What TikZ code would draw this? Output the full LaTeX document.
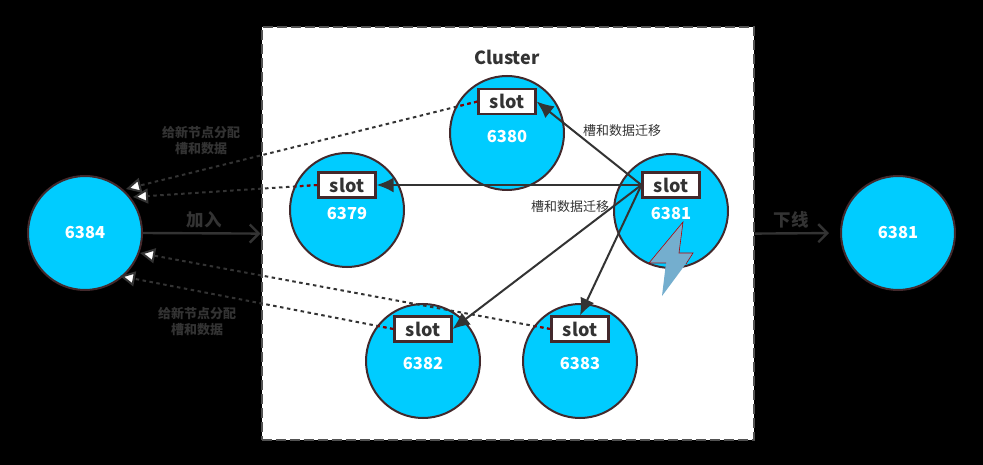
\documentclass[tikz,border=0pt]{standalone}
\usepackage{fontspec}
\setmainfont{Noto Sans CJK SC}
\usepackage{tikz}
\usetikzlibrary{arrows.meta}

\definecolor{linegray}{HTML}{333333}
\definecolor{ringdark}{HTML}{43292C}
\definecolor{nodeblue}{HTML}{00CCFF}
\definecolor{boltblue}{HTML}{74AECE}

\tikzset{
    redisnode/.style={circle, draw=ringdark, fill=nodeblue, line width=2pt, minimum size=114pt, inner sep=0pt},
    portnum/.style={text=white, font=\fontsize{16.5}{16.5}\selectfont\bfseries, inner sep=0pt},
    slotbox/.style={draw=ringdark, fill=white, line width=2.2pt, minimum width=57pt, minimum height=25pt, inner sep=0pt, text=linegray, font=\fontsize{18}{18}\selectfont\bfseries},
    migrate/.style={draw=linegray, line width=2pt, -{Latex[length=17pt, width=15pt]}},
    assign/.style={draw=linegray, line width=2pt, dash pattern=on 3.5pt off 3.5pt, -{Triangle[open, fill=white, length=15pt, width=15pt, line width=2pt]}},
    flowarrow/.style={draw=linegray, line width=2.4pt, -{Straight Barb[length=9pt, width=18pt]}},
    darknote/.style={text=linegray, align=center, inner sep=0pt},
}

\begin{document}
\begin{tikzpicture}[x=1pt, y=-1pt]
    \fill[black] (0, 0) rectangle (983, 465);
    \useasboundingbox (0, 0) rectangle (983, 465);

    \node (cluster) [draw=linegray!85, fill=white, line width=2.2pt, dash pattern=on 10pt off 4pt, minimum width=492pt, minimum height=413pt, inner sep=0pt, anchor=north west] at (260.5, 26) {};
    \node (clustertitle) [darknote, font=\fontsize{18}{18}\selectfont\bfseries] at (507, 57) {Cluster};

    \node (n6384) [redisnode] at (85, 233) {};
    \node (n6379) [redisnode] at (347, 210) {};
    \node (n6380) [redisnode] at (507, 133) {};
    \node (n6381) [redisnode] at (671, 211) {};
    \node (n6382) [redisnode] at (423, 361) {};
    \node (n6383) [redisnode] at (580, 361) {};
    \node (n6381off) [redisnode] at (898, 233) {};

    % lightning over the failing node
    \fill[boltblue] (683, 222) -- (679, 253) -- (693, 253) -- (682, 269) -- (662, 296) -- (666, 263) -- (649, 263) -- cycle;
    \draw[red!70!black, line width=0.6pt] (666, 263) -- (649, 263) -- (683, 222) -- (679, 253) -- (693, 253) -- (686, 264);

    \node (lab6384) [portnum] at (85, 233) {6384};
    \node (lab6379) [portnum] at (347, 214) {6379};
    \node (lab6380) [portnum] at (507, 137) {6380};
    \node (lab6381) [portnum] at (671, 214) {6381};
    \node (lab6382) [portnum] at (423, 364) {6382};
    \node (lab6383) [portnum] at (580, 364) {6383};
    \node (lab6381off) [portnum] at (898, 233) {6381};

    \node (slot6380) [slotbox] at (507, 101.5) {slot};
    \node (slot6379) [slotbox] at (347, 185) {slot};
    \node (slot6381) [slotbox] at (671, 185) {slot};
    \node (slot6382) [slotbox] at (423, 329) {slot};
    \node (slot6383) [slotbox] at (580, 329) {slot};

    % free ends next to the new node
    \coordinate (tipa) at (126, 189);
    \coordinate (tipb) at (133, 197);
    \coordinate (tipc) at (140, 253);
    \coordinate (tipd) at (120, 276);

    \draw[assign] (slot6380.west) -- (tipa);
    \draw[assign] (slot6379.west) -- (tipb);
    \draw[assign] (slot6383.west) -- (tipc);
    \draw[assign] (slot6382.west) -- (tipd);

    % the dots turn dark red inside the circles
    \foreach \nodeid/\tipid in {6380/tipa, 6379/tipb, 6383/tipc, 6382/tipd} {
        \begin{scope}
            \clip (n\nodeid.center) circle (57pt);
            \draw[red!55!black, line width=2pt, dash pattern=on 3.5pt off 3.5pt] (slot\nodeid.west) -- (\tipid);
        \end{scope}
    }

    \draw[migrate] (slot6381.west) -- (slot6380.east);
    \draw[migrate] (slot6381.west) -- (slot6379.east);
    \draw[migrate] (slot6381.west) -- (slot6382.east);
    \draw[migrate] (slot6381.west) -- (slot6383.north);

    \draw[flowarrow] (n6384.east) -- (cluster.west);
    \draw[flowarrow, shorten >=11pt] (cluster.east) -- (n6381off.west);

    \node (joinlab) [darknote, font=\fontsize{17.5}{17.5}\selectfont\bfseries] at (204, 220) {加入};
    \node (leavelab) [darknote, font=\fontsize{17.5}{17.5}\selectfont\bfseries] at (791, 220) {下线};
    \node (movea) [darknote, font=\fontsize{13}{13}\selectfont] at (622, 131) {槽和数据迁移};
    \node (moveb) [darknote, font=\fontsize{13}{13}\selectfont] at (570, 207) {槽和数据迁移};
    \node (givea) [darknote, font=\fontsize{13}{16}\selectfont\bfseries] at (201, 141) {给新节点分配\\槽和数据};
    \node (giveb) [darknote, font=\fontsize{13}{16}\selectfont\bfseries] at (197, 322) {给新节点分配\\槽和数据};
\end{tikzpicture}
\end{document}
